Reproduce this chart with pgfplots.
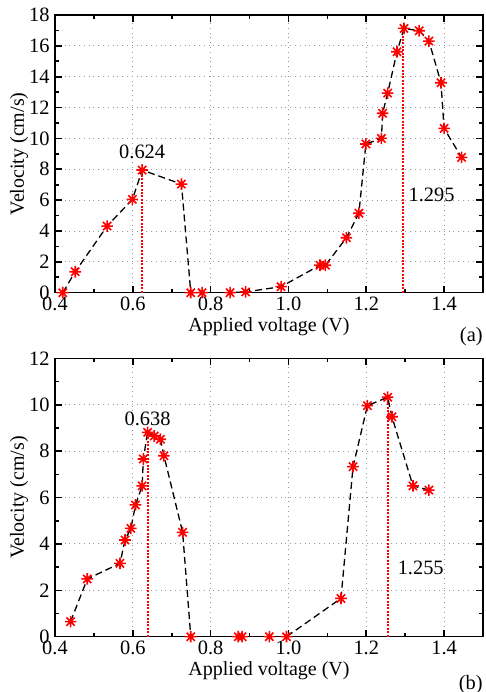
\documentclass[border=0pt]{standalone}
\usepackage{fontspec}
\setmainfont{Liberation Serif}
\usepackage{pgfplots}
\pgfplotsset{compat=1.18}
\pgfdeclareplotmark{star8}{%
  \pgfpathmoveto{\pgfpoint{0pt}{\pgfplotmarksize}}\pgfpathlineto{\pgfpoint{0pt}{-\pgfplotmarksize}}%
  \pgfpathmoveto{\pgfpoint{\pgfplotmarksize}{0pt}}\pgfpathlineto{\pgfpoint{-\pgfplotmarksize}{0pt}}%
  \pgfpathmoveto{\pgfpoint{0.7071\pgfplotmarksize}{0.7071\pgfplotmarksize}}\pgfpathlineto{\pgfpoint{-0.7071\pgfplotmarksize}{-0.7071\pgfplotmarksize}}%
  \pgfpathmoveto{\pgfpoint{0.7071\pgfplotmarksize}{-0.7071\pgfplotmarksize}}\pgfpathlineto{\pgfpoint{-0.7071\pgfplotmarksize}{0.7071\pgfplotmarksize}}%
  \pgfusepathqstroke}
\pgfplotsset{
  vel/.style={
    scale only axis,
    width=214pt,
    xmin=0.4, xmax=1.5,
    xtick={0.4,0.6,0.8,1.0,1.2,1.4},
    minor x tick num=1,
    minor y tick num=1,
    tick align=inside,
    major tick length=3.5pt,
    minor tick length=2pt,
    every tick/.style={black, line width=0.8pt},
    axis line style={line width=0.8pt},
    grid=major,
    major grid style={dotted, gray!80, line width=0.45pt},
    xticklabel style={/pgf/number format/fixed, /pgf/number format/fixed zerofill, /pgf/number format/precision=1, inner sep=1.8pt},
    yticklabel style={inner sep=2.5pt},
    /pgf/number format/assume math mode=true,
    tick label style={font=\fontsize{10.2}{12}\selectfont},
    label style={font=\fontsize{10}{12}\selectfont},
    xlabel={Applied voltage (V)},
    ylabel={Velocity (cm/s)},
    xlabel style={at={(rel axis cs:0.5,0)}, anchor=north, yshift=-12.5pt, inner sep=0pt},
    ylabel style={at={(rel axis cs:0,0.5)}, anchor=center, yshift=18pt, inner sep=0pt},
  },
  dat/.style={black, dash pattern=on 3.5pt off 2pt, line width=0.65pt, mark=star8, mark size=2.9pt,
    mark options={red, solid, line width=0.8pt}},
  vl/.style={red, dash pattern=on 1pt off 0.7pt, line width=0.9pt},
}
\begin{document}
\begin{tikzpicture}[x=1pt,y=1pt]
\path[use as bounding box] (0,0) rectangle (243,346);
\begin{axis}[vel, at={(27.5pt,199.65pt)}, anchor=south west, height=138.85pt,
  ymin=0, ymax=18, ytick={0,2,...,18}]
\addplot[vl] coordinates {(0.624,0) (0.624,7.95)};
\addplot[vl] coordinates {(1.295,0) (1.295,17.13)};
\addplot[dat] coordinates {
(0.420,0) (0.452,1.36) (0.534,4.32) (0.599,6.05) (0.624,7.95) (0.725,7.04)
(0.749,0) (0.778,0) (0.850,0) (0.890,0.05) (0.981,0.39) (1.081,1.78) (1.095,1.78)
(1.149,3.56) (1.181,5.15) (1.199,9.64) (1.239,10.0) (1.242,11.63) (1.255,12.94)
(1.279,15.62) (1.297,17.13) (1.336,16.98) (1.361,16.31) (1.392,13.61) (1.400,10.65)
(1.445,8.77)};
\node[font=\fontsize{10.2}{12}\selectfont] at (axis cs:0.624,9.14) {0.624};
\node[font=\fontsize{10.2}{12}\selectfont] at (axis cs:1.368,6.33) {1.295};
\end{axis}
\node[anchor=east, inner sep=0pt, font=\fontsize{10.2}{12}\selectfont] at (241.5,177.5) {(a)};
\begin{axis}[vel, at={(27.5pt,27.65pt)}, anchor=south west, height=139.2pt,
  ymin=0, ymax=12, ytick={0,2,...,12}]
\addplot[vl] coordinates {(0.638,0) (0.638,8.81)};
\addplot[vl] coordinates {(1.255,0) (1.255,10.32)};
\addplot[dat] coordinates {
(0.440,0.65) (0.483,2.49) (0.567,3.16) (0.580,4.17) (0.595,4.67) (0.607,5.68)
(0.624,6.50) (0.627,7.66) (0.638,8.81) (0.655,8.65) (0.671,8.51) (0.680,7.80)
(0.728,4.50) (0.749,0) (0.871,0) (0.881,0) (0.951,0) (0.995,0) (1.135,1.65)
(1.166,7.33) (1.203,9.96) (1.255,10.32) (1.266,9.48) (1.320,6.50) (1.361,6.32)};
\node[font=\fontsize{10.2}{12}\selectfont] at (axis cs:0.638,9.41) {0.638};
\node[font=\fontsize{10.2}{12}\selectfont] at (axis cs:1.340,2.95) {1.255};
\end{axis}
\node[anchor=east, inner sep=0pt, font=\fontsize{10.2}{12}\selectfont] at (241.5,3.75) {(b)};
\end{tikzpicture}
\end{document}
